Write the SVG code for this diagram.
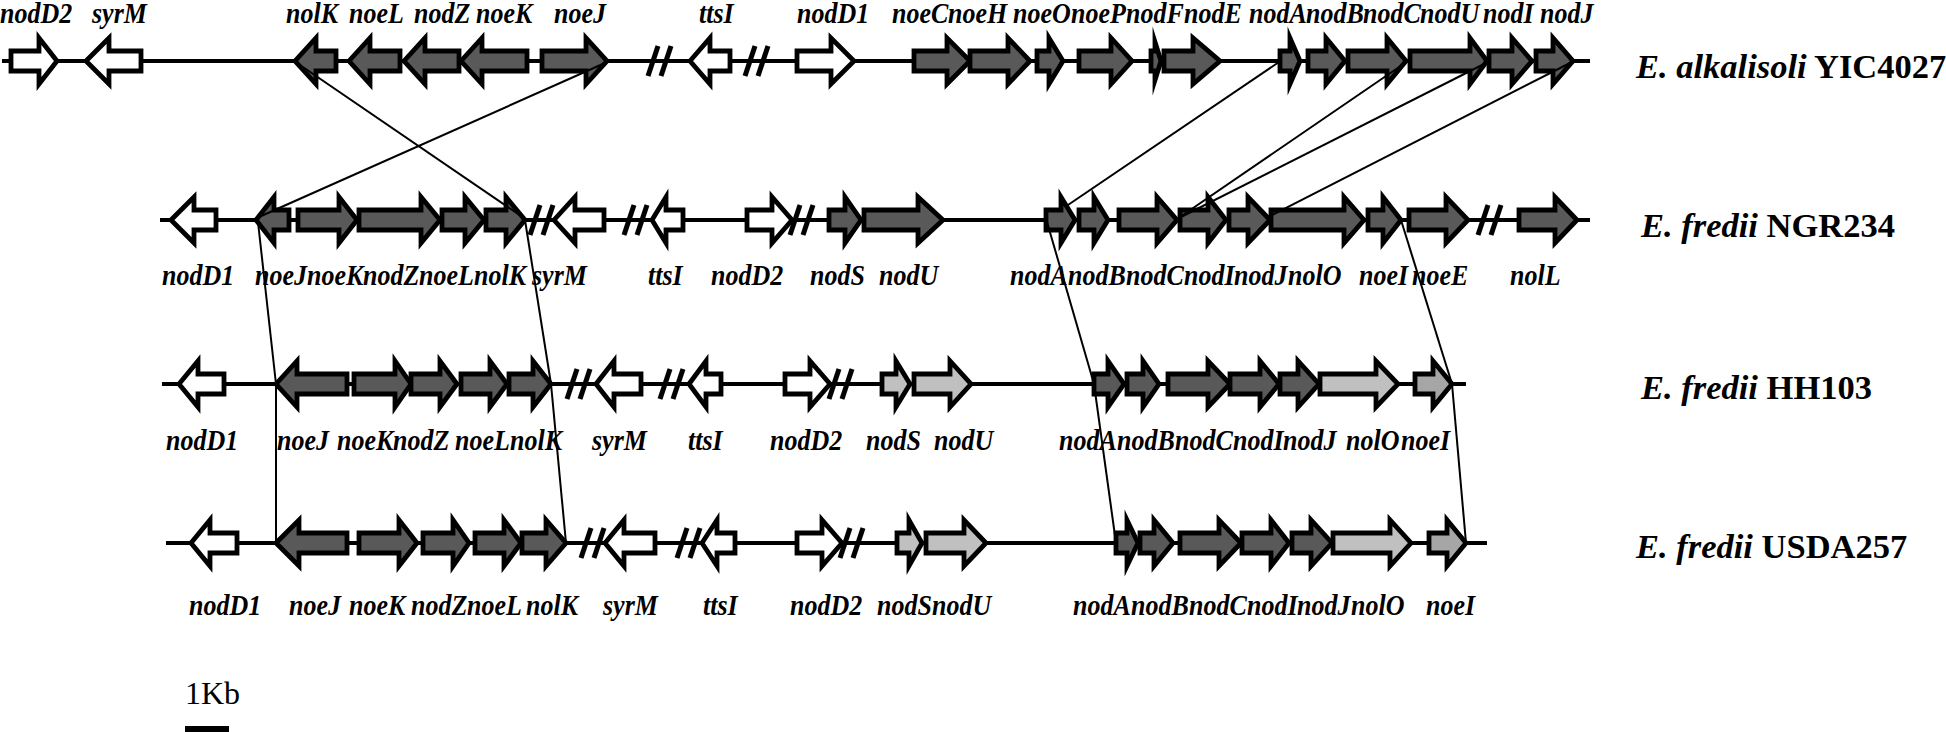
<svg xmlns="http://www.w3.org/2000/svg" xmlns:xlink="http://www.w3.org/1999/xlink" width="1946" height="732" viewBox="0 0 1946 732">
<style>
.ln{stroke:#000;stroke-width:4;fill:none}
.g{stroke:#000;stroke-width:4.8;stroke-linejoin:miter;stroke-miterlimit:10}
.w{fill:#fff}.d{fill:#595959}.l{fill:#c0c0c0}.m{fill:#a6a6a6}
.lab{font-family:"Liberation Serif","Times New Roman",serif;font-weight:bold;font-style:italic;font-size:26px;fill:#000}
.sp{font-family:"Liberation Serif","Times New Roman",serif;font-weight:bold;font-size:34.5px;fill:#000}
.cn{stroke:#000;stroke-width:2;fill:none}
.bk{stroke:#000;stroke-width:5}
</style>
<defs>
<g id="brk"><line class="bk" x1="0" y1="15" x2="10" y2="-15"/><line class="bk" x1="13" y1="15" x2="23" y2="-15"/></g>
</defs>
<rect width="1946" height="732" fill="#fff"/>

<g id="row1">
<path class="ln" d="M2,61 H1590"/>
<use xlink:href="#brk" x="648" y="61"/><use xlink:href="#brk" x="745" y="61"/>
<g id="r1-nodD2"><path class="g w" d="M11,51 H39 V38 L57,61 L39,84 V71 H11 Z"/><text class="lab" transform="translate(0,23) scale(1,1.15)">nodD2</text></g>
<g id="r1-syrM"><path class="g w" d="M86,61 L109,38 V51 H141 V71 H109 V84 Z"/><text class="lab" transform="translate(92,23) scale(1,1.15)">syrM</text></g>
<g id="r1-nolK"><path class="g d" d="M295,61 L316,38 V51 H336 V71 H316 V84 Z"/><text class="lab" transform="translate(286,23) scale(1,1.15)">nolK</text></g>
<g id="r1-noeL"><path class="g d" d="M349,61 L370,38 V51 H400 V71 H370 V84 Z"/><text class="lab" transform="translate(349,23) scale(1,1.15)">noeL</text></g>
<g id="r1-nodZ"><path class="g d" d="M404,61 L425,38 V51 H459 V71 H425 V84 Z"/><text class="lab" transform="translate(414,23) scale(1,1.15)">nodZ</text></g>
<g id="r1-noeK"><path class="g d" d="M461,61 L482,38 V51 H527 V71 H482 V84 Z"/><text class="lab" transform="translate(476,23) scale(1,1.15)">noeK</text></g>
<g id="r1-noeJ"><path class="g d" d="M542,51 H586 V38 L607,61 L586,84 V71 H542 Z"/><text class="lab" transform="translate(554,23) scale(1,1.15)">noeJ</text></g>
<g id="r1-ttsI"><path class="g w" d="M690,61 L710,38 V51 H730 V71 H710 V84 Z"/><text class="lab" transform="translate(699,23) scale(1,1.15)">ttsI</text></g>
<g id="r1-nodD1"><path class="g w" d="M797,51 H831 V38 L854,61 L831,84 V71 H797 Z"/><text class="lab" transform="translate(797,23) scale(1,1.15)">nodD1</text></g>
<g id="r1-noeC"><path class="g d" d="M914,51 H947 V38 L970,61 L947,84 V71 H914 Z"/><text class="lab" transform="translate(892,23) scale(1,1.15)">noeC</text></g>
<g id="r1-noeH"><path class="g d" d="M970,51 H1008 V38 L1030,61 L1008,84 V71 H970 Z"/><text class="lab" transform="translate(948,23) scale(1,1.15)">noeH</text></g>
<g id="r1-noeO"><path class="g d" d="M1037,51 H1049 V38 L1063,61 L1049,84 V71 H1037 Z"/><text class="lab" transform="translate(1013,23) scale(1,1.15)">noeO</text></g>
<g id="r1-noeP"><path class="g d" d="M1079,51 H1111 V38 L1132,61 L1111,84 V71 H1079 Z"/><text class="lab" transform="translate(1071,23) scale(1,1.15)">noeP</text></g>
<g id="r1-nodF"><path class="g d" d="M1151,51 H1155 V42 L1161,61 L1155,80 V71 H1151 Z"/><text class="lab" transform="translate(1126,23) scale(1,1.15)">nodF</text></g>
<g id="r1-nodE"><path class="g d" d="M1164,51 H1193 V38 L1220,61 L1193,84 V71 H1164 Z"/><text class="lab" transform="translate(1184,23) scale(1,1.15)">nodE</text></g>
<g id="r1-nodA"><path class="g d" d="M1280,51 H1290 V38 L1300,61 L1290,84 V71 H1280 Z"/><text class="lab" transform="translate(1249,23) scale(1,1.15)">nodA</text></g>
<g id="r1-nodB"><path class="g d" d="M1308,51 H1326 V38 L1345,61 L1326,84 V71 H1308 Z"/><text class="lab" transform="translate(1306,23) scale(1,1.15)">nodB</text></g>
<g id="r1-nodC"><path class="g d" d="M1348,51 H1387 V38 L1406,61 L1387,84 V71 H1348 Z"/><text class="lab" transform="translate(1363,23) scale(1,1.15)">nodC</text></g>
<g id="r1-nodU"><path class="g d" d="M1410,51 H1470 V38 L1487,61 L1470,84 V71 H1410 Z"/><text class="lab" transform="translate(1420,23) scale(1,1.15)">nodU</text></g>
<g id="r1-nodI"><path class="g d" d="M1489,51 H1512 V38 L1532,61 L1512,84 V71 H1489 Z"/><text class="lab" transform="translate(1483,23) scale(1,1.15)">nodI</text></g>
<g id="r1-nodJ"><path class="g d" d="M1536,51 H1553 V38 L1573,61 L1553,84 V71 H1536 Z"/><text class="lab" transform="translate(1540,23) scale(1,1.15)">nodJ</text></g>
<text class="sp" x="1636" y="78"><tspan font-style="italic">E. alkalisoli</tspan> YIC4027</text>
</g>

<g id="row2">
<path class="ln" d="M160,220 H1590"/>
<use xlink:href="#brk" x="530" y="220"/><use xlink:href="#brk" x="624" y="220"/><use xlink:href="#brk" x="790" y="220"/><use xlink:href="#brk" x="1478" y="220"/>
<g id="r2-nodD1"><path class="g w" d="M171,220 L194,197 V210 H216 V230 H194 V243 Z"/><text class="lab" transform="translate(162,285) scale(1,1.15)">nodD1</text></g>
<g id="r2-noeJ"><path class="g d" d="M256,220 L274,197 V210 H289 V230 H274 V243 Z"/><text class="lab" transform="translate(255,285) scale(1,1.15)">noeJ</text></g>
<g id="r2-noeK"><path class="g d" d="M298,210 H339 V197 L357,220 L339,243 V230 H298 Z"/><text class="lab" transform="translate(307,285) scale(1,1.15)">noeK</text></g>
<g id="r2-nodZ"><path class="g d" d="M359,210 H421 V197 L440,220 L421,243 V230 H359 Z"/><text class="lab" transform="translate(363,285) scale(1,1.15)">nodZ</text></g>
<g id="r2-noeL"><path class="g d" d="M442,210 H465 V197 L484,220 L465,243 V230 H442 Z"/><text class="lab" transform="translate(419,285) scale(1,1.15)">noeL</text></g>
<g id="r2-nolK"><path class="g d" d="M486,210 H506 V197 L525,220 L506,243 V230 H486 Z"/><text class="lab" transform="translate(474,285) scale(1,1.15)">nolK</text></g>
<g id="r2-syrM"><path class="g w" d="M554,220 L575,197 V210 H604 V230 H575 V243 Z"/><text class="lab" transform="translate(532,285) scale(1,1.15)">syrM</text></g>
<g id="r2-ttsI"><path class="g w" d="M652,220 L666,197 V210 H683 V230 H666 V243 Z"/><text class="lab" transform="translate(648,285) scale(1,1.15)">ttsI</text></g>
<g id="r2-nodD2"><path class="g w" d="M747,210 H772 V197 L792,220 L772,243 V230 H747 Z"/><text class="lab" transform="translate(711,285) scale(1,1.15)">nodD2</text></g>
<g id="r2-nodS"><path class="g d" d="M829,210 H845 V197 L861,220 L845,243 V230 H829 Z"/><text class="lab" transform="translate(810,285) scale(1,1.15)">nodS</text></g>
<g id="r2-nodU"><path class="g d" d="M864,210 H918 V197 L943,220 L918,243 V230 H864 Z"/><text class="lab" transform="translate(879,285) scale(1,1.15)">nodU</text></g>
<g id="r2-nodA"><path class="g d" d="M1046,210 H1061 V197 L1075,220 L1061,243 V230 H1046 Z"/><text class="lab" transform="translate(1010,285) scale(1,1.15)">nodA</text></g>
<g id="r2-nodB"><path class="g d" d="M1079,210 H1094 V197 L1108,220 L1094,243 V230 H1079 Z"/><text class="lab" transform="translate(1068,285) scale(1,1.15)">nodB</text></g>
<g id="r2-nodC"><path class="g d" d="M1119,210 H1157 V197 L1177,220 L1157,243 V230 H1119 Z"/><text class="lab" transform="translate(1126,285) scale(1,1.15)">nodC</text></g>
<g id="r2-nodI"><path class="g d" d="M1180,210 H1208 V197 L1226,220 L1208,243 V230 H1180 Z"/><text class="lab" transform="translate(1184,285) scale(1,1.15)">nodI</text></g>
<g id="r2-nodJ"><path class="g d" d="M1229,210 H1248 V197 L1270,220 L1248,243 V230 H1229 Z"/><text class="lab" transform="translate(1234,285) scale(1,1.15)">nodJ</text></g>
<g id="r2-nolO"><path class="g d" d="M1271,210 H1344 V197 L1364,220 L1344,243 V230 H1271 Z"/><text class="lab" transform="translate(1288,285) scale(1,1.15)">nolO</text></g>
<g id="r2-noeI"><path class="g d" d="M1368,210 H1383 V197 L1401,220 L1383,243 V230 H1368 Z"/><text class="lab" transform="translate(1359,285) scale(1,1.15)">noeI</text></g>
<g id="r2-noeE"><path class="g d" d="M1409,210 H1446 V197 L1468,220 L1446,243 V230 H1409 Z"/><text class="lab" transform="translate(1412,285) scale(1,1.15)">noeE</text></g>
<g id="r2-nolL"><path class="g d" d="M1519,210 H1555 V197 L1577,220 L1555,243 V230 H1519 Z"/><text class="lab" transform="translate(1510,285) scale(1,1.15)">nolL</text></g>
<text class="sp" x="1641" y="237"><tspan font-style="italic">E. fredii</tspan> NGR234</text>
</g>

<g id="row3">
<path class="ln" d="M162,384 H1466"/>
<use xlink:href="#brk" x="567" y="384"/><use xlink:href="#brk" x="660" y="384"/><use xlink:href="#brk" x="829" y="384"/>
<g id="r3-nodD1"><path class="g w" d="M179,384 L198,361 V374 H224 V394 H198 V407 Z"/><text class="lab" transform="translate(166,450) scale(1,1.15)">nodD1</text></g>
<g id="r3-noeJ"><path class="g d" d="M276,384 L297,361 V374 H347 V394 H297 V407 Z"/><text class="lab" transform="translate(277,450) scale(1,1.15)">noeJ</text></g>
<g id="r3-noeK"><path class="g d" d="M354,374 H395 V361 L411,384 L395,407 V394 H354 Z"/><text class="lab" transform="translate(337,450) scale(1,1.15)">noeK</text></g>
<g id="r3-nodZ"><path class="g d" d="M411,374 H440 V361 L457,384 L440,407 V394 H411 Z"/><text class="lab" transform="translate(393,450) scale(1,1.15)">nodZ</text></g>
<g id="r3-noeL"><path class="g d" d="M461,374 H490 V361 L507,384 L490,407 V394 H461 Z"/><text class="lab" transform="translate(455,450) scale(1,1.15)">noeL</text></g>
<g id="r3-nolK"><path class="g d" d="M509,374 H533 V361 L551,384 L533,407 V394 H509 Z"/><text class="lab" transform="translate(510,450) scale(1,1.15)">nolK</text></g>
<g id="r3-syrM"><path class="g w" d="M596,384 L614,361 V374 H641 V394 H614 V407 Z"/><text class="lab" transform="translate(592,450) scale(1,1.15)">syrM</text></g>
<g id="r3-ttsI"><path class="g w" d="M689,384 L706,361 V374 H721 V394 H706 V407 Z"/><text class="lab" transform="translate(688,450) scale(1,1.15)">ttsI</text></g>
<g id="r3-nodD2"><path class="g w" d="M785,374 H810 V361 L830,384 L810,407 V394 H785 Z"/><text class="lab" transform="translate(770,450) scale(1,1.15)">nodD2</text></g>
<g id="r3-nodS"><path class="g l" d="M882,374 H896 V361 L910,384 L896,407 V394 H882 Z"/><text class="lab" transform="translate(866,450) scale(1,1.15)">nodS</text></g>
<g id="r3-nodU"><path class="g l" d="M914,374 H950 V361 L971,384 L950,407 V394 H914 Z"/><text class="lab" transform="translate(934,450) scale(1,1.15)">nodU</text></g>
<g id="r3-nodA"><path class="g d" d="M1094,374 H1108 V361 L1124,384 L1108,407 V394 H1094 Z"/><text class="lab" transform="translate(1059,450) scale(1,1.15)">nodA</text></g>
<g id="r3-nodB"><path class="g d" d="M1127,374 H1143 V361 L1159,384 L1143,407 V394 H1127 Z"/><text class="lab" transform="translate(1117,450) scale(1,1.15)">nodB</text></g>
<g id="r3-nodC"><path class="g d" d="M1168,374 H1208 V361 L1230,384 L1208,407 V394 H1168 Z"/><text class="lab" transform="translate(1175,450) scale(1,1.15)">nodC</text></g>
<g id="r3-nodI"><path class="g d" d="M1230,374 H1260 V361 L1279,384 L1260,407 V394 H1230 Z"/><text class="lab" transform="translate(1233,450) scale(1,1.15)">nodI</text></g>
<g id="r3-nodJ"><path class="g d" d="M1280,374 H1298 V361 L1319,384 L1298,407 V394 H1280 Z"/><text class="lab" transform="translate(1283,450) scale(1,1.15)">nodJ</text></g>
<g id="r3-nolO"><path class="g l" d="M1320,374 H1376 V361 L1398,384 L1376,407 V394 H1320 Z"/><text class="lab" transform="translate(1346,450) scale(1,1.15)">nolO</text></g>
<g id="r3-noeI"><path class="g m" d="M1415,374 H1433 V361 L1452,384 L1433,407 V394 H1415 Z"/><text class="lab" transform="translate(1401,450) scale(1,1.15)">noeI</text></g>
<text class="sp" x="1641" y="399"><tspan font-style="italic">E. fredii</tspan> HH103</text>
</g>

<g id="row4">
<path class="ln" d="M166,543 H1487"/>
<use xlink:href="#brk" x="581" y="543"/><use xlink:href="#brk" x="677" y="543"/><use xlink:href="#brk" x="840" y="543"/>
<g id="r4-nodD1"><path class="g w" d="M191,543 L210,520 V533 H237 V553 H210 V566 Z"/><text class="lab" transform="translate(189,615) scale(1,1.15)">nodD1</text></g>
<g id="r4-noeJ"><path class="g d" d="M276,543 L299,520 V533 H347 V553 H299 V566 Z"/><text class="lab" transform="translate(289,615) scale(1,1.15)">noeJ</text></g>
<g id="r4-noeK"><path class="g d" d="M359,533 H399 V520 L417,543 L399,566 V553 H359 Z"/><text class="lab" transform="translate(349,615) scale(1,1.15)">noeK</text></g>
<g id="r4-nodZ"><path class="g d" d="M423,533 H453 V520 L469,543 L453,566 V553 H423 Z"/><text class="lab" transform="translate(411,615) scale(1,1.15)">nodZ</text></g>
<g id="r4-noeL"><path class="g d" d="M475,533 H504 V520 L521,543 L504,566 V553 H475 Z"/><text class="lab" transform="translate(467,615) scale(1,1.15)">noeL</text></g>
<g id="r4-nolK"><path class="g d" d="M522,533 H546 V520 L566,543 L546,566 V553 H522 Z"/><text class="lab" transform="translate(526,615) scale(1,1.15)">nolK</text></g>
<g id="r4-syrM"><path class="g w" d="M605,543 L624,520 V533 H655 V553 H624 V566 Z"/><text class="lab" transform="translate(603,615) scale(1,1.15)">syrM</text></g>
<g id="r4-ttsI"><path class="g w" d="M702,543 L717,520 V533 H735 V553 H717 V566 Z"/><text class="lab" transform="translate(703,615) scale(1,1.15)">ttsI</text></g>
<g id="r4-nodD2"><path class="g w" d="M797,533 H822 V520 L842,543 L822,566 V553 H797 Z"/><text class="lab" transform="translate(790,615) scale(1,1.15)">nodD2</text></g>
<g id="r4-nodS"><path class="g l" d="M897,533 H909 V520 L922,543 L909,566 V553 H897 Z"/><text class="lab" transform="translate(877,615) scale(1,1.15)">nodS</text></g>
<g id="r4-nodU"><path class="g l" d="M926,533 H964 V520 L986,543 L964,566 V553 H926 Z"/><text class="lab" transform="translate(932,615) scale(1,1.15)">nodU</text></g>
<g id="r4-nodA"><path class="g d" d="M1116,533 H1127 V520 L1138,543 L1127,566 V553 H1116 Z"/><text class="lab" transform="translate(1073,615) scale(1,1.15)">nodA</text></g>
<g id="r4-nodB"><path class="g d" d="M1140,533 H1154 V520 L1173,543 L1154,566 V553 H1140 Z"/><text class="lab" transform="translate(1131,615) scale(1,1.15)">nodB</text></g>
<g id="r4-nodC"><path class="g d" d="M1180,533 H1219 V520 L1241,543 L1219,566 V553 H1180 Z"/><text class="lab" transform="translate(1189,615) scale(1,1.15)">nodC</text></g>
<g id="r4-nodI"><path class="g d" d="M1242,533 H1271 V520 L1289,543 L1271,566 V553 H1242 Z"/><text class="lab" transform="translate(1247,615) scale(1,1.15)">nodI</text></g>
<g id="r4-nodJ"><path class="g d" d="M1292,533 H1311 V520 L1332,543 L1311,566 V553 H1292 Z"/><text class="lab" transform="translate(1297,615) scale(1,1.15)">nodJ</text></g>
<g id="r4-nolO"><path class="g l" d="M1333,533 H1390 V520 L1411,543 L1390,566 V553 H1333 Z"/><text class="lab" transform="translate(1351,615) scale(1,1.15)">nolO</text></g>
<g id="r4-noeI"><path class="g m" d="M1429,533 H1447 V520 L1466,543 L1447,566 V553 H1429 Z"/><text class="lab" transform="translate(1426,615) scale(1,1.15)">noeI</text></g>
<text class="sp" x="1636" y="558"><tspan font-style="italic">E. fredii</tspan> USDA257</text>
</g>

<g id="connectors">
<path class="cn" d="M297,63 L521,216"/>
<path class="cn" d="M605,63 L259,217"/>
<path class="cn" d="M1279,62 L1065,207"/>
<path class="cn" d="M1405,63 L1180,217"/>
<path class="cn" d="M1486,63 L1181,217"/>
<path class="cn" d="M1572,62 L1270,216"/>
<path class="cn" d="M258,222 L276,384"/>
<path class="cn" d="M525,220 L551,384"/>
<path class="cn" d="M1047,222 L1094,384"/>
<path class="cn" d="M1401,220 L1452,384"/>
<path class="cn" d="M276,384 L276,543"/>
<path class="cn" d="M551,384 L566,543"/>
<path class="cn" d="M1094,384 L1116,543"/>
<path class="cn" d="M1452,384 L1466,543"/>
</g>

<g id="scalebar">
<text x="185" y="704" font-family="'Liberation Serif','Times New Roman',serif" font-size="32">1Kb</text>
<rect x="185" y="726" width="44" height="6" fill="#000"/>
</g>
</svg>
